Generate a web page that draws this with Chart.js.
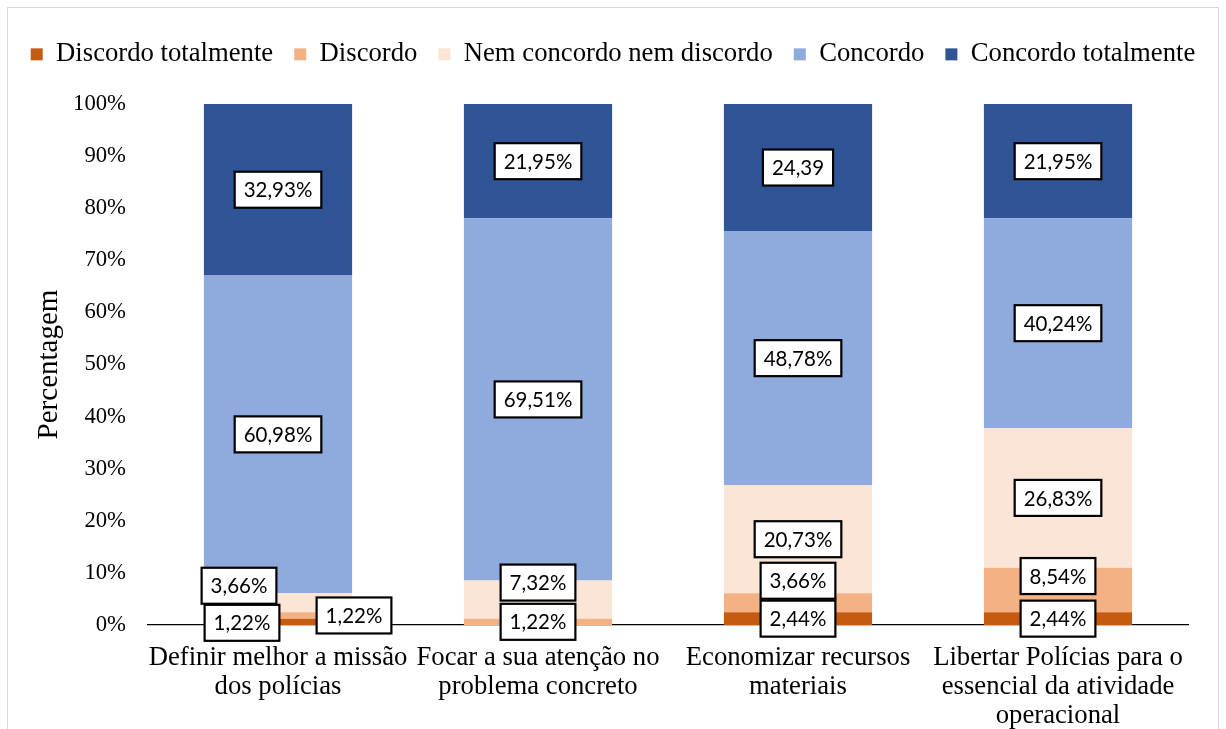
<!DOCTYPE html>
<html>
<head>
<meta charset="utf-8">
<script src="https://cdn.jsdelivr.net/npm/chart.js@4"></script>
<style>
    html, body { margin: 0; padding: 0; background: #fff; overflow: hidden; }
    #frame { position: absolute; left: 7px; top: 7px; width: 1210px; height: 740px; border: 1.5px solid #d9d9d9; }
    #wrap { position: absolute; left: 0; top: 0; width: 1226px; height: 729px; }
</style>
</head>
<body>
<div id="frame"></div>
<div id="wrap"><canvas id="chart" width="1226" height="729"></canvas></div>
<script>
// categories (x axis)
const categories = [
    ["Definir melhor a missão", "dos polícias"],
    ["Focar a sua atenção no", "problema concreto"],
    ["Economizar recursos", "materiais"],
    ["Libertar Polícias para o", "essencial da atividade", "operacional"]
];

// series values (%)
const discordoTotalmente = [1.22, 0, 2.44, 2.44];
const discordo = [1.22, 1.22, 3.66, 8.54];
const nemNem = [3.66, 7.32, 20.73, 26.83];
const concordo = [60.98, 69.51, 48.78, 40.24];
const concordoTotalmente = [32.93, 21.95, 24.39, 21.95];

const yTicks = [0, 10, 20, 30, 40, 50, 60, 70, 80, 90, 100];

const serif = "'Liberation Serif', 'Times New Roman', serif";

// labels that were moved by hand in the original, keyed "dataset,index"
const labelNudge = {
    "0,0": [-36, 1],
    "1,0": [76, 0],
    "2,0": [-39, -17],
    "2,1": [0, -17],
    "1,2": [0, -22],
    "1,3": [0, -14]
};

function fmt(v, di, i) {
    let s = v.toFixed(2).replace(".", ",");
    // the original shows this one without a percent sign
    if (!(di === 4 && i === 2)) s += "%";
    return s;
}

const boxLabels = {
    id: "boxLabels",
    afterDraw(chart) {
        const ctx = chart.ctx;
        ctx.save();
        ctx.font = "20.5px Lato, 'Open Sans', sans-serif";
        ctx.textAlign = "center";
        ctx.textBaseline = "middle";
        chart.data.datasets.forEach((ds, di) => {
            const meta = chart.getDatasetMeta(di);
            meta.data.forEach((bar, i) => {
                const v = ds.data[i];
                if (!v) return;
                const text = fmt(v, di, i);
                const nudge = labelNudge[di + "," + i] || [0, 0];
                const cx = bar.x + nudge[0];
                const cy = (bar.y + bar.base) / 2 + nudge[1];
                const w = ctx.measureText(text).width + 18;
                const h = 36;
                ctx.fillStyle = "#fff";
                ctx.fillRect(cx - w / 2, cy - h / 2, w, h);
                ctx.lineWidth = 2.2;
                ctx.strokeStyle = "#000";
                ctx.strokeRect(cx - w / 2, cy - h / 2, w, h);
                ctx.fillStyle = "#000";
                ctx.fillText(text, cx, cy + 1);
            });
        });
        ctx.restore();
    }
};

// gives the legend a fixed height so the plot starts where the original does
const legendSpace = {
    id: "legendSpace",
    beforeLayout(chart) {
        const lg = chart.legend;
        if (lg && !lg._patched) {
            const fit = lg.fit;
            lg.fit = function () {
                fit.call(this);
                this.height = 84;
            };
            lg._patched = true;
        }
    }
};

const ctx = document.getElementById("chart").getContext("2d");
const chart = new Chart(ctx, {
    type: "bar",
    data: {
        labels: categories,
        datasets: [
            { label: "Discordo totalmente", data: discordoTotalmente, backgroundColor: "#C55A11" },
            { label: "Discordo", data: discordo, backgroundColor: "#F4B183" },
            { label: "Nem concordo nem discordo", data: nemNem, backgroundColor: "#FBE5D6" },
            { label: "Concordo", data: concordo, backgroundColor: "#8FAADC" },
            { label: "Concordo totalmente", data: concordoTotalmente, backgroundColor: "#2F5597" }
        ]
    },
    options: {
        responsive: false,
        animation: false,
        layout: { padding: { left: 0, right: 0, top: 20, bottom: 0 } },
        datasets: {
            bar: { categoryPercentage: 1, barPercentage: 0.57, borderWidth: 0 }
        },
        scales: {
            x: {
                stacked: true,
                z: 1,
                grid: { display: false },
                border: { display: true, color: "#000", width: 1.3 },
                ticks: {
                    color: "#000",
                    font: { family: serif, size: 26.7, lineHeight: 1.09 },
                    padding: 10,
                    maxRotation: 0,
                    autoSkip: false
                },
                afterFit(scale) { scale.height = 104; }
            },
            y: {
                stacked: true,
                min: 0,
                max: 100,
                grid: { display: false },
                border: { display: false },
                afterBuildTicks(scale) { scale.ticks = yTicks.map(v => ({ value: v })); },
                ticks: {
                    color: "#000",
                    font: { family: serif, size: 22.7 },
                    padding: 14,
                    callback: v => v + "%"
                },
                title: {
                    display: true,
                    text: "Percentagem",
                    color: "#000",
                    font: { family: serif, size: 29 },
                    padding: { top: 32, bottom: 0 }
                },
                afterFit(scale) { scale.width = 148; }
            },
            // empty axis on the right, only keeps the plot's right edge in place
            side: {
                position: "right",
                display: true,
                grid: { display: false },
                border: { display: false },
                ticks: { display: false },
                afterFit(scale) { scale.width = 38; }
            }
        },
        plugins: {
            legend: {
                position: "top",
                labels: {
                    color: "#000",
                    font: { family: serif, size: 26.7 },
                    boxWidth: 12,
                    boxHeight: 12,
                    padding: 21
                }
            },
            tooltip: { enabled: false }
        }
    },
    plugins: [legendSpace, boxLabels]
});
</script>
</body>
</html>
